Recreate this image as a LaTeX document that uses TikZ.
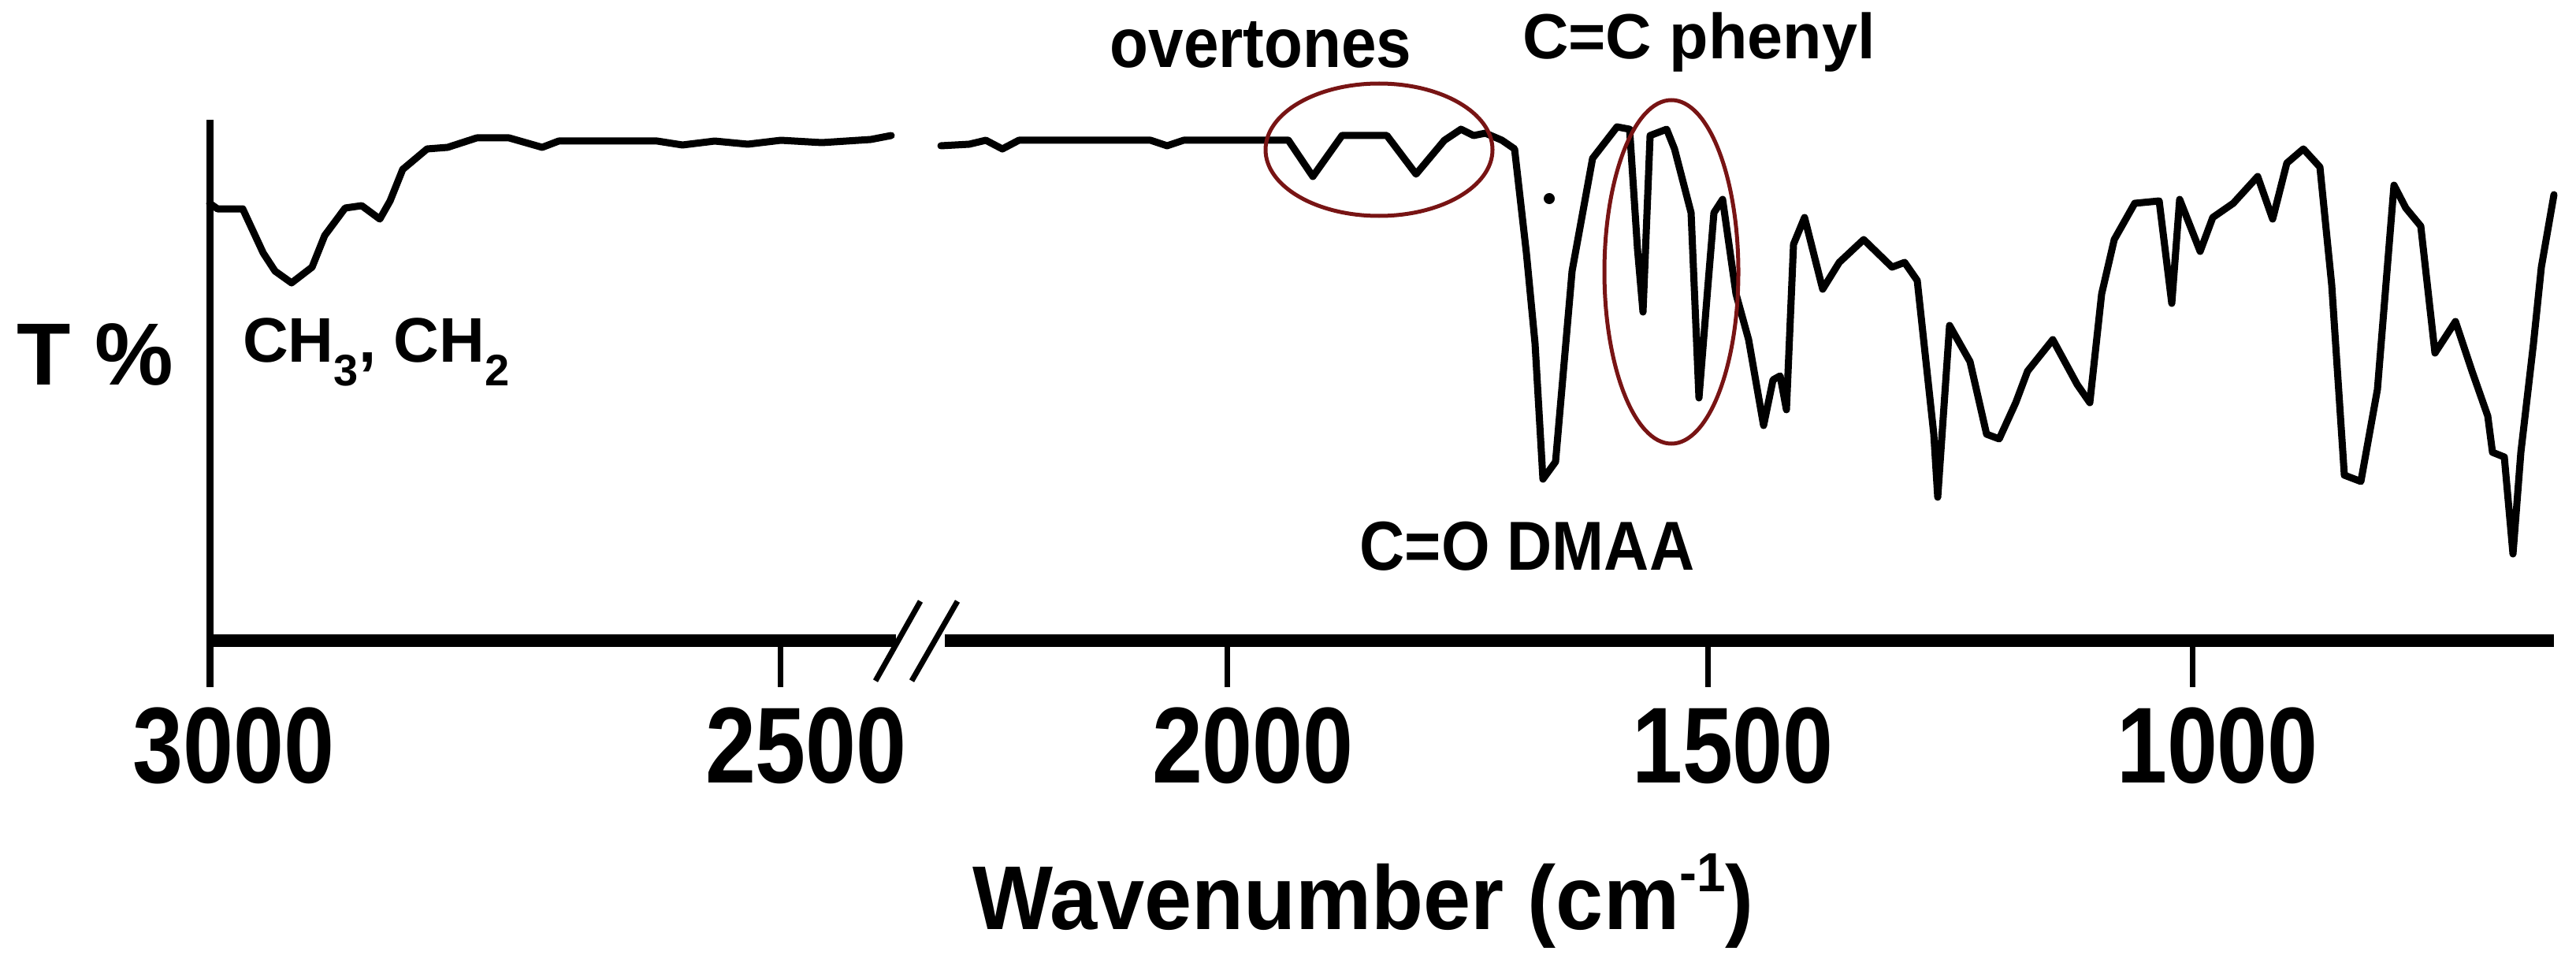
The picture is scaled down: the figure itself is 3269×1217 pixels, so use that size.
\documentclass[tikz,border=0pt]{standalone}
\usepackage{fontspec}
\setmainfont{Liberation Sans}
\begin{document}
\begin{tikzpicture}[x=1pt,y=-1pt,
  lbl/.style={inner sep=0pt,font=\bfseries\fontsize{#1}{#1}\selectfont},
  ticklbl/.style={inner sep=0pt,xscale=0.84,font=\bfseries\fontsize{137}{137}\selectfont},
  spec/.style={line width=9pt,line join=round,line cap=round},
  ring/.style={draw={rgb,255:red,120;green,20;blue,20},line width=5pt}]
\useasboundingbox (0,0) rectangle (3269,1217);
% axes
\coordinate (o) at (266,813);
\coordinate (ytop) at (266,152);
\coordinate (xb1) at (1137,813);
\coordinate (xb2) at (1199,813);
\coordinate (xend) at (3241,813);
\draw[line width=9pt] (ytop) -- (266,872);
\draw[line width=16pt] (262,813) -- (xb1);
\draw[line width=16pt] (xb2) -- (xend);
\draw[line width=7pt] (1111,864) -- (1168,763);
\draw[line width=7pt] (1157,864) -- (1215,763);
\foreach \x in {990,1557,2167,2782} \draw[line width=7pt] (\x,813) -- (\x,872);
\node[ticklbl] (t3000) at (297,946) {3000};
\node[ticklbl] (t2500) at (1023,946) {2500};
\node[ticklbl] (t2000) at (1590,946) {2000};
\node[ticklbl] (t1500) at (2199,946) {1500};
\node[ticklbl] (t1000) at (2814,946) {1000};
\node[lbl=115,xscale=0.94,anchor=base] (xt) at (1730,1179) {Wavenumber (cm\raisebox{48pt}{\fontsize{70}{70}\selectfont -1})};
\node[lbl=112,anchor=base west] (yt) at (21,488) {T \%};
\node[lbl=80,anchor=base west] (l1) at (308,459) {CH\textsubscript{3}, CH\textsubscript{2}};
\node[lbl=89,xscale=0.9,anchor=base] (l2) at (1600,86) {overtones};
\node[lbl=81,anchor=base] (l3) at (2156,75) {C=C phenyl};
\node[lbl=88,xscale=0.9,anchor=base] (l4) at (1938,723) {C=O DMAA};
% spectrum
\draw[spec] (266,258) -- (276,265) -- (308,265) -- (334,321) -- (349,344) -- (370,359) -- (396,339) -- (412,299) -- (438,264) -- (459,261) -- (482,278) -- (495,255) -- (511,215) -- (542,189) -- (568,187) -- (605,175) -- (646,175) -- (688,187) -- (709,179) -- (834,179) -- (866,184) -- (907,179) -- (949,183) -- (991,178) -- (1043,181) -- (1105,177) -- (1131,172);
\draw[spec] (1194,185) -- (1230,183) -- (1251,178) -- (1272,189) -- (1293,178) -- (1460,178) -- (1481,185) -- (1502,178) -- (1635,178) -- (1666,224) -- (1703,172) -- (1760,172) -- (1797,221) -- (1833,178) -- (1854,164) -- (1870,172) -- (1885,169) -- (1906,178) -- (1922,189) -- (1937,321) -- (1948,436) -- (1958,608) -- (1974,586) -- (1995,344) -- (2021,201) -- (2052,161) -- (2068,164) -- (2078,316) -- (2085,396) -- (2094,172) -- (2115,164) -- (2125,189) -- (2146,270) -- (2156,505) -- (2167,367) -- (2175,270) -- (2186,253) -- (2203,373) -- (2219,431) -- (2238,540) -- (2250,482) -- (2259,477) -- (2267,520) -- (2276,310) -- (2290,276) -- (2313,367) -- (2334,333) -- (2365,304) -- (2401,339) -- (2417,333) -- (2433,356) -- (2454,551) -- (2459,631) -- (2474,413) -- (2500,459) -- (2521,551) -- (2537,557) -- (2558,511) -- (2573,471) -- (2605,431) -- (2636,488) -- (2652,511) -- (2667,373) -- (2683,304) -- (2709,258) -- (2740,255) -- (2756,385) -- (2766,253) -- (2792,319) -- (2808,276) -- (2834,258) -- (2865,224) -- (2884,278) -- (2902,207) -- (2923,189) -- (2944,212) -- (2959,362) -- (2975,603) -- (2996,611) -- (3017,494) -- (3038,235) -- (3053,264) -- (3072,287) -- (3090,448) -- (3116,408) -- (3137,471) -- (3157,528) -- (3163,574) -- (3178,580) -- (3189,703) -- (3199,574) -- (3215,436) -- (3225,339) -- (3241,247);
\fill (1966,252) circle (7);
% ellipses
\draw[ring] (1750,190) ellipse [x radius=144,y radius=84];
\draw[ring] (2121,345) ellipse [x radius=85,y radius=218];
\end{tikzpicture}
\end{document}
